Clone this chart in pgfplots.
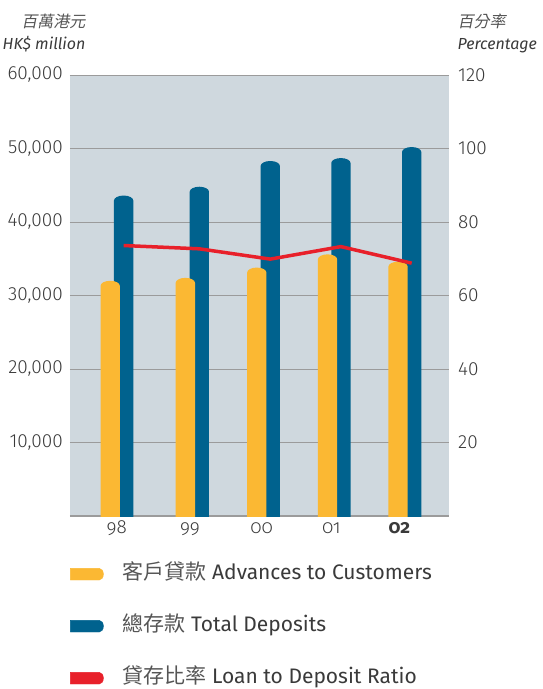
\documentclass[border=0pt]{standalone}
\usepackage{fontspec}
\usepackage{pgfplots}
\usepackage{pgfplotstable}
\pgfplotsset{compat=1.18}
\setmainfont{Fira Sans}
\newfontfamily\lightfont{Fira Sans Light}
\newfontfamily\lightold[Numbers=OldStyle]{Fira Sans Light}
\newfontfamily\mainold[Numbers=OldStyle]{Fira Sans}
\newfontfamily\cjk{Noto Sans CJK TC}
\newfontfamily\cjkit[FakeSlant=0.2]{Noto Sans CJK TC}
\definecolor{adv}{HTML}{FBB833}
\definecolor{dep}{HTML}{00628E}
\definecolor{bgc}{HTML}{CFD8DE}
\definecolor{rat}{HTML}{E8202A}
\definecolor{grd}{HTML}{9B9B9B}
\definecolor{txt}{HTML}{3A3A3A}
\definecolor{cjkc}{HTML}{555555}
\pgfdeclareplotmark{capbar}{%
  \pgfpathmoveto{\pgfqpoint{-9.65pt}{-700pt}}%
  \pgfpathlineto{\pgfqpoint{-9.65pt}{-5pt}}%
  \pgfpatharc{180}{0}{9.65pt and 5pt}%
  \pgfpathlineto{\pgfqpoint{9.65pt}{-700pt}}%
  \pgfpathclose
  \pgfusepathqfill}
\pgfplotstableread{
x y
-0.12 32000
0.927 32400
1.922 33800
2.908 35600
3.89 34600
}\advtable
\pgfplotstableread{
x y
0.067 43600
1.122 44800
2.110 48300
3.094 48700
4.080 50200
}\deptable
\pgfplotstableread{
x y
0.067 73.6
1.122 72.7
2.110 69.9
3.094 73.3
4.080 68.8
}\rattable
\begin{document}
\begin{tikzpicture}
\path[use as bounding box] (-70pt,-173pt) rectangle (472pt,516pt);
\begin{axis}[
  at={(0pt,0pt)}, anchor=south west,
  scale only axis, width=379pt, height=441pt,
  xmin=-0.68, xmax=4.6, ymin=0, ymax=60000,
  axis background/.style={fill=bgc},
  axis x line*=bottom, axis y line*=left,
  y axis line style={draw=none},
  x axis line style={draw=grd, line width=1.2pt},
  ymajorgrids, major grid style={draw=grd, line width=1pt},
  major tick length=0pt,
  clip marker paths=true,
  xtick={-0.03,0.99,1.99,2.96,3.91},
  xticklabels={98,99,00,01,{\mainold\bfseries 02}},
  xticklabel style={font=\lightold\fontsize{19}{22}\selectfont, text=txt, anchor=base, inner sep=0pt, yshift=-17pt},
  ytick={10000,20000,30000,40000,50000,60000},
  scaled y ticks=false,
  yticklabel style={font=\lightfont\fontsize{19}{22}\selectfont, text=txt, anchor=east, inner sep=0pt, xshift=-7pt,
    /pgf/number format/.cd, fixed, 1000 sep={,}, assume math mode=true},
  legend cell align=left,
  legend style={at={(0,0)}, anchor=north west, yshift=-49pt, draw=none, fill=none,
    inner sep=0pt, row sep=34pt, font=\fontsize{21}{24}\selectfont, text=txt,
    nodes={inner sep=0pt, text height=14pt, text depth=4pt},
    /tikz/every odd column/.append style={column sep=19pt}},
]
\addplot[only marks, mark=capbar, color=dep, forget plot] table[x=x,y=y] {\deptable};
\addplot[only marks, mark=capbar, color=adv, forget plot] table[x=x,y=y] {\advtable};
\addlegendimage{legend image code/.code={\fill[adv] (0pt,-5.8pt) -- (29pt,-5.8pt) arc[start angle=-90,end angle=90,x radius=4pt,y radius=5.8pt] -- (0pt,5.8pt) -- cycle;}}
\addlegendentry{{\cjk\color{cjkc}客戶貸款} Advances to Customers}
\addlegendimage{legend image code/.code={\fill[dep] (0pt,-5.8pt) -- (29pt,-5.8pt) arc[start angle=-90,end angle=90,x radius=4pt,y radius=5.8pt] -- (0pt,5.8pt) -- cycle;}}
\addlegendentry{{\cjk\color{cjkc}總存款} Total Deposits}
\addlegendimage{legend image code/.code={\fill[rat] (0pt,-5.8pt) -- (29pt,-5.8pt) arc[start angle=-90,end angle=90,x radius=4pt,y radius=5.8pt] -- (0pt,5.8pt) -- cycle;}}
\addlegendentry{{\cjk\color{cjkc}貸存比率} Loan to Deposit Ratio}
\end{axis}
\begin{axis}[
  at={(0pt,0pt)}, anchor=south west,
  scale only axis, width=379pt, height=441pt,
  xmin=-0.68, xmax=4.6, ymin=0, ymax=120,
  axis x line=none, axis y line*=right,
  y axis line style={draw=none},
  major tick length=0pt,
  ytick={20,40,60,80,100,120},
  yticklabel style={font=\lightfont\fontsize{19}{22}\selectfont, text=txt, anchor=west, inner sep=0pt, xshift=9pt,
    /pgf/number format/assume math mode=true},
]
\addplot[rat, line width=3.5pt, mark=none] table[x=x,y=y] {\rattable};
\end{axis}
\node[anchor=base east, font=\cjkit\fontsize{16}{19}\selectfont, text=cjkc] at (19pt,488pt) {百萬港元};
\node[anchor=base east, font=\itshape\fontsize{16}{19}\selectfont, text=txt] at (19pt,466pt) {HK\$ million};
\node[anchor=base west, font=\cjkit\fontsize{16}{19}\selectfont, text=cjkc] at (384pt,488pt) {百分率};
\node[anchor=base west, font=\itshape\fontsize{16}{19}\selectfont, text=txt] at (384pt,466pt) {Percentage};
\end{tikzpicture}
\end{document}
